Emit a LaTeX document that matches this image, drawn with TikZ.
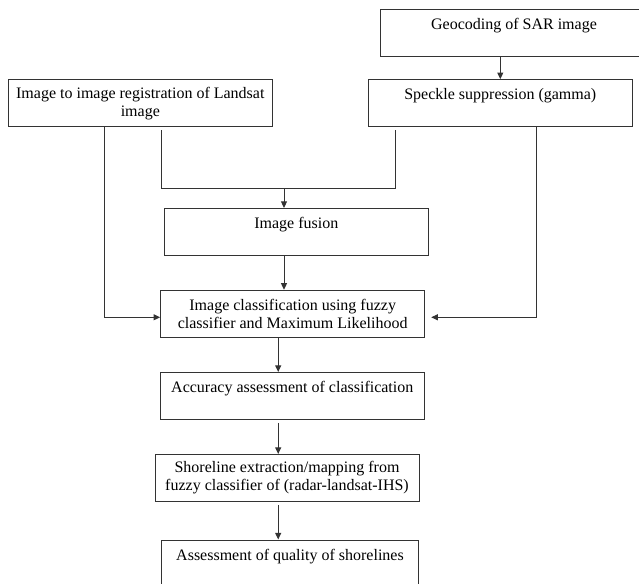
\documentclass[tikz,border=0pt]{standalone}
\usepackage{fontspec}
\setmainfont{Liberation Serif}
\usetikzlibrary{positioning}
\usetikzlibrary{arrows.meta}

\begin{document}
\begin{tikzpicture}[
    x=0.75pt,
    y=-0.75pt,
    line width=0.75pt,
    draw=black!80,
    every node/.style={
      rectangle,
      draw=black!80,
      minimum width=198pt,
      minimum height=35.25pt,
      inner sep=0pt,
      align=center,
      font=\fontsize{12}{13.5}\selectfont
    },
    >={Triangle[length=5pt,width=4.5pt]},
    ]
    \useasboundingbox (0,0) rectangle (639,584);
    \clip (0,0) rectangle (639,584);

    \node (geo) [minimum width=201pt] at (514,32.7) {Geocoding of SAR image\\ \mbox{}};
    \node (speck) at (500.3,103.2) {Speckle suppression (gamma)\\ \mbox{}};
    \node (reg) at (140.3,103.2) {Image to image registration of Landsat\\ image};
    \node (fus) at (296.3,232) {Image fusion\\ \mbox{}};
    \node (cls) at (292.7,313.8) {Image classification using fuzzy\\ classifier and Maximum Likelihood};
    \node (acc) at (292.3,396) {Accuracy assessment of classification\\ \mbox{}};
    \node (shore) at (287,478) {Shoreline extraction/mapping from\\ fuzzy classifier of (radar-landsat-IHS)};
    \node (asm) [minimum width=193.3pt] at (290,563.5) {Assessment of quality of shorelines\\ \mbox{}};

    % bends of the connectors
    \coordinate (lx) at (104,317.3);
    \coordinate (rx) at (536.3,317.3);
    \coordinate (ml) at (161,188.3);
    \coordinate (mr) at (395.7,188.3);
    \coordinate (mj) at (284,188.3);
    \coordinate (cx) at (278.2,0);

    \draw[->] (speck.north |- geo.south) -- (speck.north);
    \draw[->] (reg.south -| lx) -- (lx) -- (lx -| cls.west);
    \draw[->] (speck.south -| rx) -- (rx) -- ([xshift=4.5pt]rx -| cls.east);
    \draw ([yshift=-2.25pt]reg.south -| ml) -- (ml) -- (mr) -- ([yshift=-2.25pt]speck.south -| mr);
    \draw[->] (mj) -- (mj |- fus.north);
    \draw[->] (fus.south -| mj) -- (mj |- cls.north);
    \draw[->] (cls.south -| cx) -- (cx |- acc.north);
    \draw[->] ([yshift=-2.25pt]acc.south -| cx) -- (cx |- shore.north);
    \draw[->] ([yshift=-2.25pt]shore.south -| cx) -- (cx |- asm.north);
  \end{tikzpicture}
\end{document}
